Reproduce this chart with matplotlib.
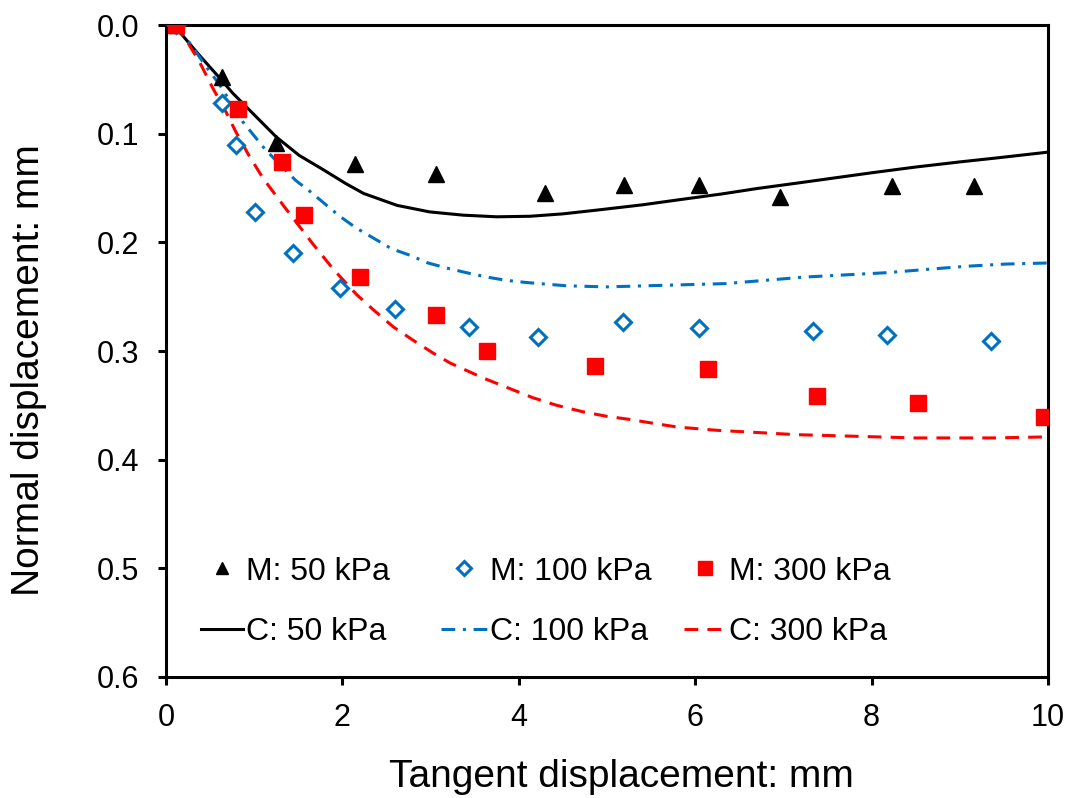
import matplotlib
matplotlib.use("Agg")
import matplotlib.pyplot as plt
from matplotlib.ticker import FormatStrFormatter

plt.rcParams['font.family'] = ['Liberation Sans', 'DejaVu Sans']

# Measured data
m50_x = [0.11, 0.63, 1.25, 2.14, 3.06, 4.30, 5.19, 6.04, 6.96, 8.23, 9.16]
m50_y = [0.0, 0.048, 0.109, 0.128, 0.137, 0.155, 0.147, 0.147, 0.158, 0.148, 0.148]

m100_x = [0.11, 0.64, 0.79, 1.01, 1.44, 1.97, 2.60, 3.43, 4.22, 5.18, 6.04, 7.33, 8.17, 9.35]
m100_y = [0.0, 0.072, 0.110, 0.172, 0.210, 0.242, 0.261, 0.278, 0.287, 0.273, 0.279, 0.282, 0.285, 0.291]

m300_x = [0.11, 0.82, 1.32, 1.56, 2.20, 3.06, 3.64, 4.86, 6.15, 7.38, 8.53, 9.96]
m300_y = [0.0, 0.077, 0.126, 0.175, 0.232, 0.267, 0.300, 0.314, 0.317, 0.341, 0.348, 0.361]

# Calculated curves
c50_x = [0.1, 0.15, 0.38, 0.60, 0.76, 0.98, 1.25, 1.51, 1.78, 2.04, 2.24, 2.62, 2.99,
         3.37, 3.75, 4.13, 4.5, 4.9, 5.4, 5.8, 6.3, 6.7, 7.2, 7.6, 8.0, 8.5, 9.0,
         9.4, 10.0]
c50_y = [0.0, 0.006, 0.028, 0.048, 0.063, 0.081, 0.103, 0.120, 0.133, 0.146, 0.155,
         0.166, 0.172, 0.175, 0.1765, 0.176, 0.1738, 0.1702, 0.1655, 0.161, 0.1555,
         0.1505, 0.145, 0.1405, 0.136, 0.1307, 0.126, 0.1225, 0.117]

c100_x = [0.1, 0.23, 0.47, 0.60, 0.87, 1.0, 1.13, 1.47, 1.63, 1.97, 2.16, 2.35, 2.56,
          2.77, 2.97, 3.2, 3.41, 3.64, 3.86, 4.09, 4.54, 4.99, 5.44, 5.89, 6.34, 6.79,
          7.23, 7.69, 8.16, 8.61, 9.08, 9.52, 10.0]
c100_y = [0.0, 0.012, 0.040, 0.054, 0.089, 0.102, 0.115, 0.143, 0.153, 0.176, 0.187,
          0.196, 0.206, 0.212, 0.219, 0.224, 0.228, 0.232, 0.235, 0.237, 0.240, 0.241,
          0.240, 0.239, 0.238, 0.235, 0.232, 0.230, 0.228, 0.225, 0.222, 0.220, 0.219]

c300_x = [0.1, 0.23, 0.38, 0.53, 0.68, 0.79, 0.94, 1.10, 1.33, 1.67, 1.90, 2.16, 2.35,
          2.58, 2.80, 3.03, 3.22, 3.60, 3.88, 4.16, 4.43, 4.73, 4.99, 5.26, 5.56, 5.8,
          6.25, 6.7, 7.15, 7.6, 8.05, 8.49, 8.95, 9.39, 10.0]
c300_y = [0.0, 0.014, 0.034, 0.058, 0.080, 0.098, 0.120, 0.141, 0.166, 0.202, 0.225,
          0.248, 0.262, 0.278, 0.290, 0.302, 0.311, 0.325, 0.334, 0.343, 0.350, 0.356,
          0.360, 0.363, 0.367, 0.370, 0.373, 0.375, 0.377, 0.378, 0.379, 0.380, 0.380,
          0.380, 0.379]

x_ticks = [0, 2, 4, 6, 8, 10]
y_ticks = [0.0, 0.1, 0.2, 0.3, 0.4, 0.5, 0.6]

BLUE = '#0070C0'
RED = '#FF0000'

fig = plt.figure(figsize=(10.72, 7.98), dpi=100)
ax = fig.add_axes([166/1072, 1-677/798, (1048-166)/1072, (677-25)/798])

lw = 2.2
l50, = ax.plot(c50_x, c50_y, color='black', lw=lw, zorder=2)
l100, = ax.plot(c100_x, c100_y, color=BLUE, lw=lw, dashes=(4.5, 2.5, 1, 2.5), zorder=2)
l300, = ax.plot(c300_x, c300_y, color=RED, lw=lw, dashes=(4.5, 3), zorder=2)

p50, = ax.plot(m50_x, m50_y, ls='none', marker='^', ms=11, color='black',
               mec='black', zorder=3)
p100, = ax.plot(m100_x, m100_y, ls='none', marker='D', ms=8.5, mfc='white',
                mec=BLUE, mew=2.2, zorder=3)
p300, = ax.plot(m300_x, m300_y, ls='none', marker='s', ms=12, color=RED,
                mec=RED, zorder=4)

ax.set_xlim(0, 10)
ax.set_ylim(0.6, 0.0)
ax.set_xticks(x_ticks)
ax.set_yticks(y_ticks)
ax.yaxis.set_major_formatter(FormatStrFormatter('%.1f'))

for s in ax.spines.values():
    s.set_linewidth(2.2)
    s.set_color('black')
ax.tick_params(axis='both', direction='out', length=6, width=2.2,
               labelsize=22, pad=13, colors='black')

ax.set_xlabel('Tangent displacement: mm', fontsize=28)
ax.set_ylabel('Normal displacement: mm', fontsize=28)
ax.xaxis.set_label_coords((621-166)/882, -(777-677)/652)
ax.yaxis.set_label_coords((29-166)/882, (677-370)/652)
ax.xaxis.label.set_va('center')
ax.yaxis.label.set_va('center')

leg_specs = [
    ([p50, l50], ['M: 50 kPa', 'C: 50 kPa'], 201, 1.32),
    ([p100, l100], ['M: 100 kPa', 'C: 100 kPa'], 441, 1.44),
    ([p300, l300], ['M: 300 kPa', 'C: 300 kPa'], 684, 1.32),
]
legs = []
for hs, lbs, xpx, hl in leg_specs:
    lg = fig.legend(hs, lbs, loc='center left',
                    bbox_to_anchor=(xpx/1072, 1-602/798),
                    bbox_transform=fig.transFigure,
                    frameon=False, fontsize=23, handlelength=hl,
                    handletextpad=0.1, labelspacing=0.97,
                    markerscale=0.8, borderpad=0, borderaxespad=0)
    legs.append(lg)

fig.savefig('out.png', dpi=100)
